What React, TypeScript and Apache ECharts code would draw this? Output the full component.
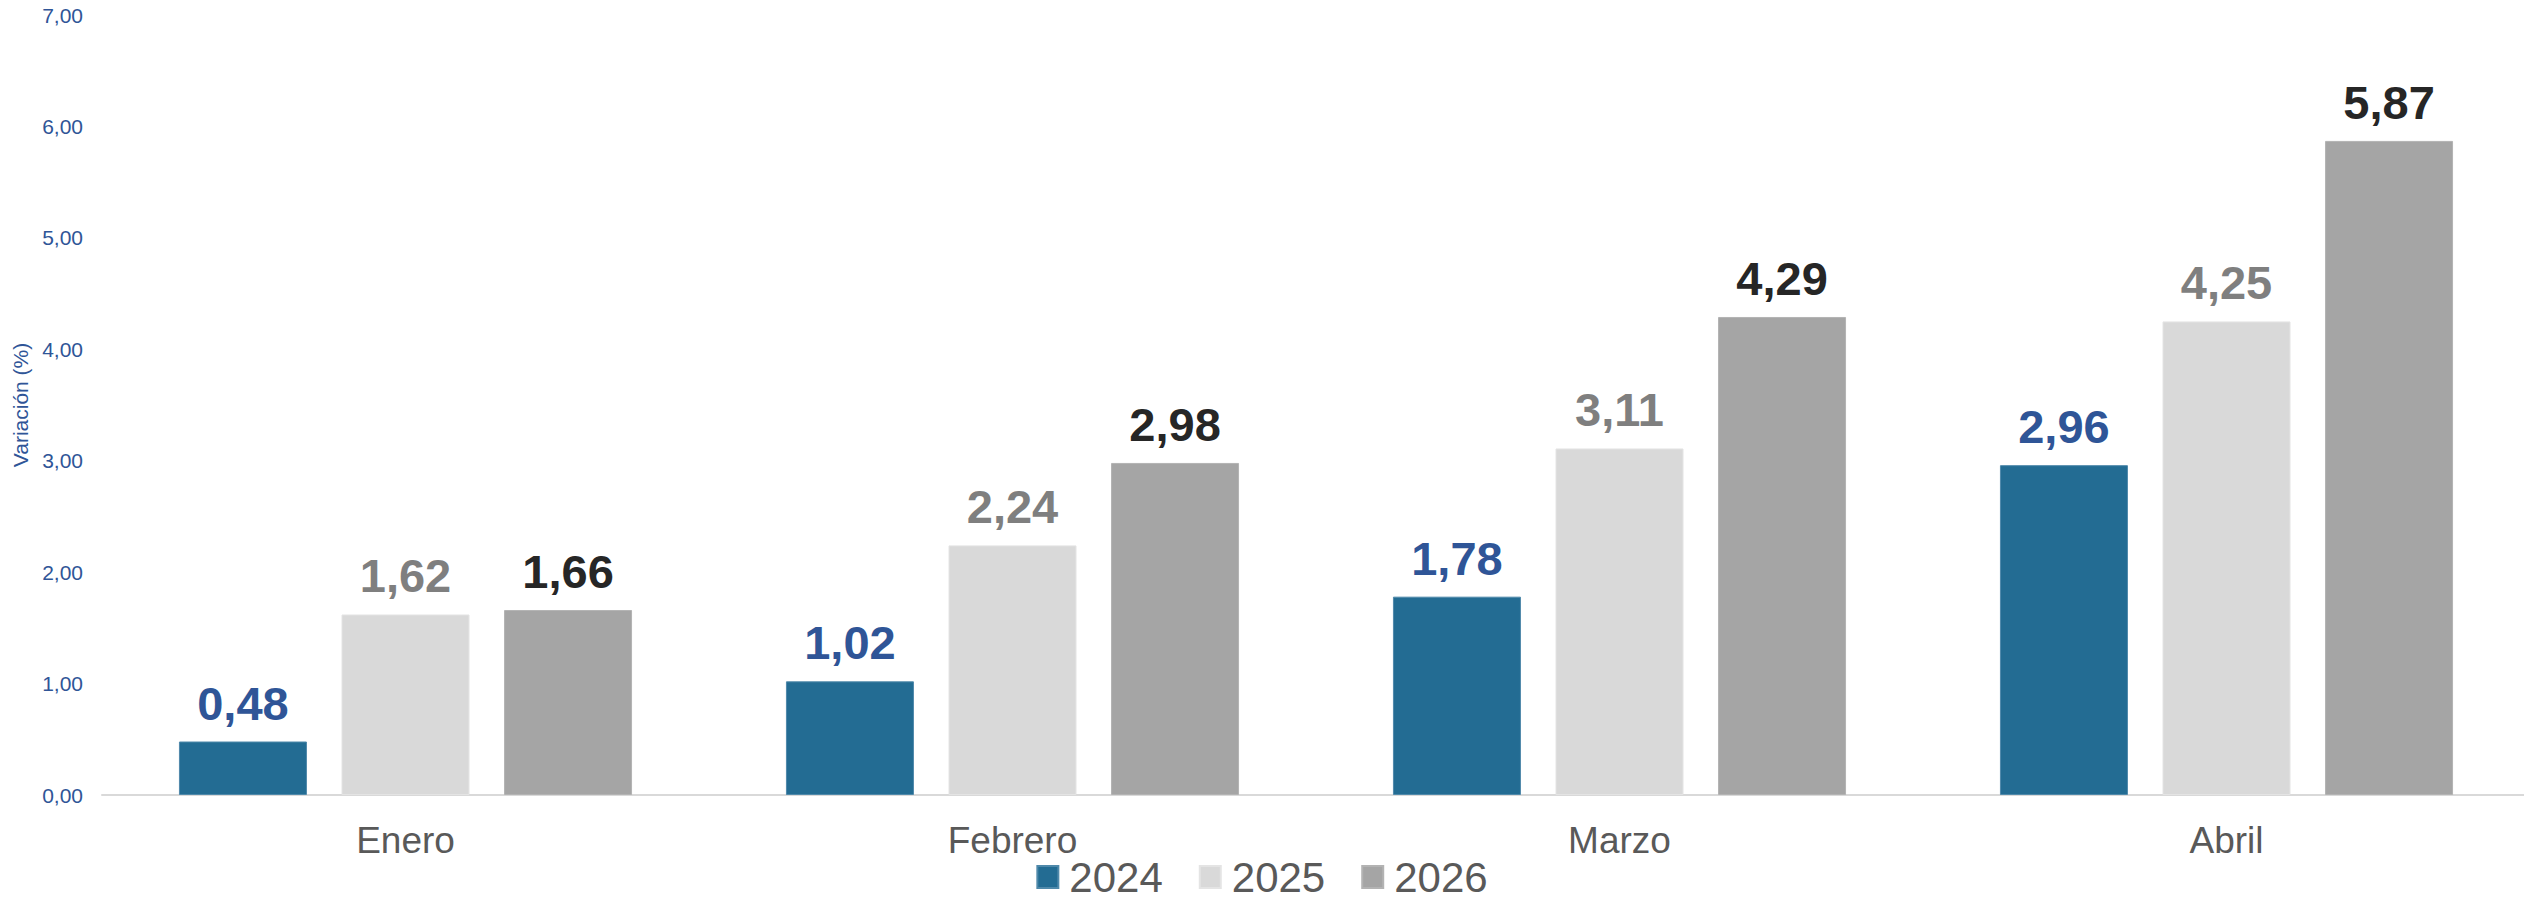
import React, { useEffect, useRef } from "react";
import * as echarts from "echarts";

const categories = ["Enero", "Febrero", "Marzo", "Abril"];
const seriesNames = ["2024", "2025", "2026"];
const values2024 = [0.48, 1.02, 1.78, 2.96];
const values2025 = [1.62, 2.24, 3.11, 4.25];
const values2026 = [1.66, 2.98, 4.29, 5.87];
const barColors = ["#236C93", "#D9D9D9", "#A5A5A5"];
const borderColors = ["#4F89AA", "#E4E4E4", "#B3B3B3"];
const labelColors = ["#2F5597", "#7F7F7F", "#262626"];

const FONT = "'Liberation Sans', Arial, sans-serif";
const fmt = (v: number) => v.toFixed(2).replace(".", ",");

export default function App() {
  const ref = useRef<HTMLDivElement>(null);
  useEffect(() => {
    if (!ref.current) return;
    const chart = echarts.init(ref.current, undefined, { renderer: "svg" });
    const data = [values2024, values2025, values2026];
    chart.setOption({
      animation: false,
      textStyle: { fontFamily: FONT },
      grid: {
        left: 102,
        right: -6,
        top: 15,
        bottom: 106,
        containLabel: false,
        outerBoundsMode: "none",
      },
      legend: {
        data: seriesNames,
        top: 851,
        left: "center",
        itemWidth: 21,
        itemHeight: 22,
        itemGap: 36,
        icon: "rect",
        textStyle: { fontSize: 42, color: "#595959", fontFamily: FONT, padding: [0, 0, 0, 6] },
      },
      xAxis: {
        type: "category",
        data: categories,
        axisLine: { show: true, lineStyle: { color: "#D9D9D9", width: 2 } },
        axisTick: { show: false },
        axisLabel: { fontSize: 37, color: "#595959", margin: 27, fontFamily: FONT },
      },
      yAxis: {
        type: "value",
        min: 0,
        max: 7,
        interval: 1,
        name: "Variación (%)",
        nameLocation: "middle",
        nameGap: 68,
        nameTextStyle: { fontSize: 21, color: "#2F5597", fontFamily: FONT },
        axisLine: { show: false },
        axisTick: { show: false },
        splitLine: { show: false },
        axisLabel: {
          fontSize: 21,
          color: "#2F5597",
          margin: 19,
          fontFamily: FONT,
          formatter: (v: number) => fmt(v),
        },
      },
      series: seriesNames.map((name, i) => ({
        name,
        type: "bar",
        data: data[i],
        barWidth: 128,
        barGap: "27%",
        itemStyle: { color: barColors[i], borderColor: borderColors[i], borderWidth: 1 },
        label: {
          show: true,
          position: "top",
          distance: 15,
          fontSize: 47,
          fontWeight: "bold",
          color: labelColors[i],
          fontFamily: FONT,
          formatter: (p: any) => fmt(p.value),
        },
      })),
    });
    return () => chart.dispose();
  }, []);
  return (
    <div
      ref={ref}
      style={{ position: "fixed", left: 0, top: 0, width: 2524, height: 901, background: "#ffffff" }}
    />
  );
}
